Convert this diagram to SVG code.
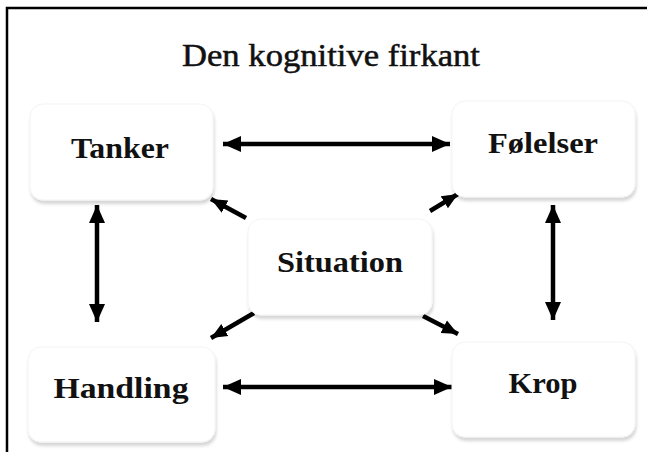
<svg xmlns="http://www.w3.org/2000/svg" width="647" height="452" viewBox="0 0 647 452">
<style>
.box{fill:#fff;stroke:#f3f3f3;stroke-width:1;filter:url(#sh)}
.lbl{font-family:"Liberation Serif","Times New Roman",serif;font-weight:bold;font-size:29px;fill:#111;text-anchor:middle}
.title{font-family:"Liberation Serif","Times New Roman",serif;font-size:31px;fill:#111;stroke:#111;stroke-width:0.5;text-anchor:middle}
.arr{stroke:#000;stroke-width:4.5;fill:none;marker-end:url(#ah);marker-start:url(#ah)}
.arr1{stroke:#000;stroke-width:4.5;fill:none;marker-end:url(#ah2)}
</style>
<defs>
<filter id="sh" x="-10%" y="-10%" width="130%" height="130%">
<feDropShadow dx="1" dy="3.5" stdDeviation="1.5" flood-color="#000" flood-opacity="0.16"/>
</filter>
<marker id="ah" markerUnits="userSpaceOnUse" markerWidth="19" markerHeight="18" refX="18" refY="9" orient="auto-start-reverse" viewBox="0 0 19 18">
<path d="M0,1 L18,9 L0,17 z" fill="#000"/>
</marker>
<marker id="ah2" markerUnits="userSpaceOnUse" markerWidth="17" markerHeight="16" refX="16" refY="8" orient="auto" viewBox="0 0 17 16">
<path d="M0,1 L16,8 L0,15 z" fill="#000"/>
</marker>
</defs>
<rect width="647" height="452" fill="#fff"/>
<path d="M7,452 V8 H647" fill="none" stroke="#000" stroke-width="2.5"/>
<text class="title" x="331" y="66" textLength="298" lengthAdjust="spacingAndGlyphs">Den kognitive firkant</text>
<g id="connectors">
<line class="arr" x1="223" y1="144" x2="450" y2="144"/>
<line class="arr" x1="223" y1="387" x2="452" y2="387"/>
<line class="arr" x1="97" y1="205" x2="97" y2="322"/>
<line class="arr" x1="553" y1="205" x2="553" y2="320"/>
<line class="arr1" x1="246" y1="218" x2="211" y2="199"/>
<line class="arr1" x1="430" y1="211" x2="458" y2="194"/>
<line class="arr1" x1="254" y1="313" x2="211" y2="338"/>
<line class="arr1" x1="423" y1="316" x2="458" y2="334"/>
</g>
<g id="tanker">
<rect class="box" x="30" y="104" width="183" height="96" rx="13"/>
<text class="lbl" x="120" y="158" textLength="98" lengthAdjust="spacingAndGlyphs">Tanker</text>
</g>
<g id="folelser">
<rect class="box" x="452" y="101" width="183" height="96" rx="13"/>
<text class="lbl" x="543" y="153" textLength="110" lengthAdjust="spacingAndGlyphs">Følelser</text>
</g>
<g id="situation">
<rect class="box" x="248" y="219" width="184" height="96" rx="13"/>
<text class="lbl" x="340" y="272" textLength="126" lengthAdjust="spacingAndGlyphs">Situation</text>
</g>
<g id="handling">
<rect class="box" x="28" y="347" width="187" height="95" rx="13"/>
<text class="lbl" x="121" y="398" textLength="135" lengthAdjust="spacingAndGlyphs">Handling</text>
</g>
<g id="krop">
<rect class="box" x="452" y="342" width="183" height="95" rx="13"/>
<text class="lbl" x="543" y="393" textLength="69" lengthAdjust="spacingAndGlyphs">Krop</text>
</g>
</svg>
